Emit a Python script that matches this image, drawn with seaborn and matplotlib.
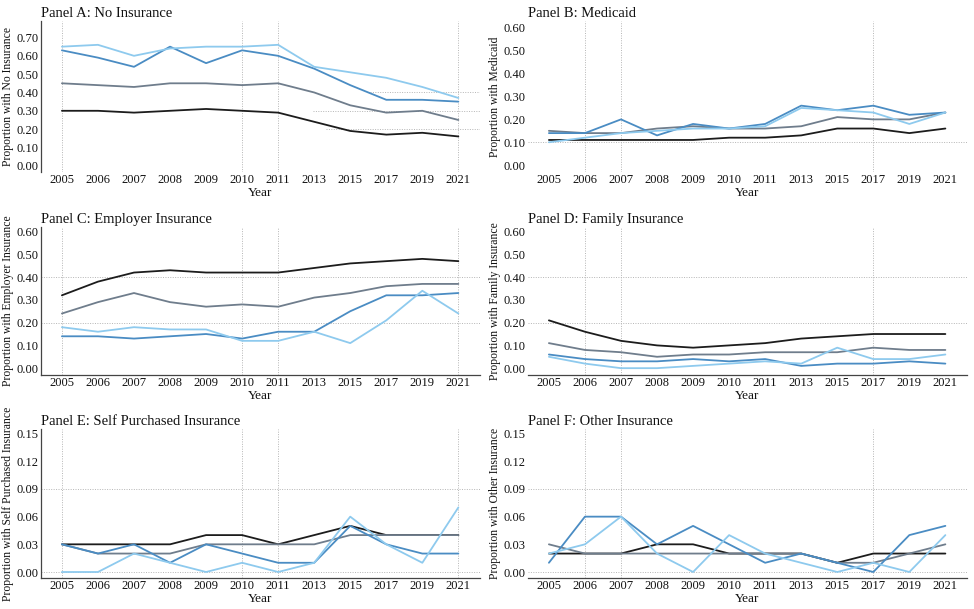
import numpy as np
import pandas as pd
import seaborn as sns
import matplotlib.pyplot as plt

sns.set_style("white")
plt.rcParams['font.family'] = ['Liberation Serif', 'DejaVu Serif']

years = ["2005", "2006", "2007", "2008", "2009", "2010", "2011", "2013", "2015", "2017", "2019", "2021"]
groups = ["Group 1", "Group 2", "Group 3", "Group 4"]
colors = ["#1c1c1c", "#6f7d8c", "#4a8cc3", "#8ecaee"]

# Panel A: No Insurance
none_g1 = [0.30, 0.30, 0.29, 0.30, 0.31, 0.30, 0.29, 0.24, 0.19, 0.17, 0.18, 0.16]
none_g2 = [0.45, 0.44, 0.43, 0.45, 0.45, 0.44, 0.45, 0.40, 0.33, 0.29, 0.30, 0.25]
none_g3 = [0.63, 0.59, 0.54, 0.65, 0.56, 0.63, 0.60, 0.53, 0.44, 0.36, 0.36, 0.35]
none_g4 = [0.65, 0.66, 0.60, 0.64, 0.65, 0.65, 0.66, 0.54, 0.51, 0.48, 0.43, 0.37]

# Panel B: Medicaid
mcd_g1 = [0.11, 0.11, 0.11, 0.11, 0.11, 0.12, 0.12, 0.13, 0.16, 0.16, 0.14, 0.16]
mcd_g2 = [0.15, 0.14, 0.14, 0.16, 0.17, 0.16, 0.16, 0.17, 0.21, 0.20, 0.20, 0.23]
mcd_g3 = [0.14, 0.14, 0.20, 0.13, 0.18, 0.16, 0.18, 0.26, 0.24, 0.26, 0.22, 0.23]
mcd_g4 = [0.10, 0.12, 0.14, 0.15, 0.16, 0.16, 0.17, 0.25, 0.24, 0.23, 0.18, 0.23]

# Panel C: Employer
emp_g1 = [0.32, 0.38, 0.42, 0.43, 0.42, 0.42, 0.42, 0.44, 0.46, 0.47, 0.48, 0.47]
emp_g2 = [0.24, 0.29, 0.33, 0.29, 0.27, 0.28, 0.27, 0.31, 0.33, 0.36, 0.37, 0.37]
emp_g3 = [0.14, 0.14, 0.13, 0.14, 0.15, 0.13, 0.16, 0.16, 0.25, 0.32, 0.32, 0.33]
emp_g4 = [0.18, 0.16, 0.18, 0.17, 0.17, 0.12, 0.12, 0.16, 0.11, 0.21, 0.34, 0.24]

# Panel D: Family
fam_g1 = [0.21, 0.16, 0.12, 0.10, 0.09, 0.10, 0.11, 0.13, 0.14, 0.15, 0.15, 0.15]
fam_g2 = [0.11, 0.08, 0.07, 0.05, 0.06, 0.06, 0.07, 0.07, 0.07, 0.09, 0.08, 0.08]
fam_g3 = [0.06, 0.04, 0.03, 0.03, 0.04, 0.03, 0.04, 0.01, 0.02, 0.02, 0.03, 0.02]
fam_g4 = [0.05, 0.02, 0.00, 0.00, 0.01, 0.02, 0.03, 0.02, 0.09, 0.04, 0.04, 0.06]

# Panel E: Self purchased
self_g1 = [0.03, 0.03, 0.03, 0.03, 0.04, 0.04, 0.03, 0.04, 0.05, 0.04, 0.04, 0.04]
self_g2 = [0.03, 0.02, 0.02, 0.02, 0.03, 0.03, 0.03, 0.03, 0.04, 0.04, 0.04, 0.04]
self_g3 = [0.03, 0.02, 0.03, 0.01, 0.03, 0.02, 0.01, 0.01, 0.05, 0.03, 0.02, 0.02]
self_g4 = [0.00, 0.00, 0.02, 0.01, 0.00, 0.01, 0.00, 0.01, 0.06, 0.03, 0.01, 0.07]

# Panel F: Other
oth_g1 = [0.02, 0.02, 0.02, 0.03, 0.03, 0.02, 0.02, 0.02, 0.01, 0.02, 0.02, 0.02]
oth_g2 = [0.03, 0.02, 0.02, 0.02, 0.02, 0.02, 0.02, 0.02, 0.01, 0.01, 0.02, 0.03]
oth_g3 = [0.01, 0.06, 0.06, 0.03, 0.05, 0.03, 0.01, 0.02, 0.01, 0.00, 0.04, 0.05]
oth_g4 = [0.02, 0.03, 0.06, 0.02, 0.00, 0.04, 0.02, 0.01, 0.00, 0.01, 0.00, 0.04]

titles = ["Panel A: No Insurance", "Panel B: Medicaid", "Panel C: Employer Insurance",
          "Panel D: Family Insurance", "Panel E: Self Purchased Insurance", "Panel F: Other Insurance"]
ylabels = ["Proportion with No Insurance", "Proportion with Medicaid",
           "Proportion with Employer Insurance", "Proportion with Family Insurance",
           "Proportion with Self Purchased Insurance", "Proportion with Other Insurance"]
panel_data = [
    [none_g1, none_g2, none_g3, none_g4],
    [mcd_g1, mcd_g2, mcd_g3, mcd_g4],
    [emp_g1, emp_g2, emp_g3, emp_g4],
    [fam_g1, fam_g2, fam_g3, fam_g4],
    [self_g1, self_g2, self_g3, self_g4],
    [oth_g1, oth_g2, oth_g3, oth_g4],
]
yticks = [np.arange(0, 0.71, 0.1), np.arange(0, 0.61, 0.1), np.arange(0, 0.61, 0.1),
          np.arange(0, 0.61, 0.1), np.arange(0, 0.151, 0.03), np.arange(0, 0.151, 0.03)]
ylims = [(-0.034, 0.79), (-0.03, 0.63), (-0.03, 0.62), (-0.03, 0.62), (-0.0065, 0.155), (-0.0065, 0.155)]

# odd partial gridlines of the original
vgrid = [[0, 5, 6, 11], [1, 2, 9], [0, 5, 6, 11], [1, 2, 9], [0, 5, 6, 11], [1, 2, 9]]
hgrid = [[(0.20, 0.65), (0.30, 0.62), (0.40, 0.75)], [(0.10, 0.0)], [(0.40, 0.0), (0.20, 0.0)],
         [(0.40, 0.0), (0.20, 0.0)], [(0.09, 0.0), (0.00, 0.0)], [(0.09, 0.0), (0.00, 0.0)]]

W, H = 974, 609
fig = plt.figure(figsize=(W / 100, H / 100), dpi=100)
rows = [(21, 172), (227, 375), (429, 578)]
cols = [41, 528]
axw = 439

for i in range(6):
    r, c = divmod(i, 2)
    top, bot = rows[r]
    ax = fig.add_axes([cols[c] / W, 1 - bot / H, axw / W, (bot - top) / H])
    df = pd.DataFrame({
        "Year": years * 4,
        "value": sum(panel_data[i], []),
        "group": np.repeat(groups, len(years)),
    })
    for x in vgrid[i]:
        ax.axvline(x, color="#b5b5b5", lw=0.7, ls=(0, (1, 1.5)), zorder=0)
    for y, x0 in hgrid[i]:
        ax.axhline(y, xmin=x0, color="#b5b5b5", lw=0.7, ls=(0, (1, 1.5)), zorder=0)
    sns.lineplot(data=df, x="Year", y="value", hue="group", palette=colors,
                 linewidth=1.3, legend=False, ax=ax, sort=False)
    ax.set_xlim(-0.58, 11.6)
    ax.set_ylim(*ylims[i])
    ax.set_yticks(yticks[i])
    ax.set_yticklabels([f"{v:.2f}" for v in yticks[i]])
    ax.tick_params(axis="both", length=0, labelsize=9, pad=1.5, colors="#111111")
    ax.set_title(titles[i], loc="left", fontsize=10.5, pad=3, color="#111111")
    ax.set_ylabel(ylabels[i], fontsize=8.4, labelpad=2, color="#111111")
    ax.set_xlabel("Year", fontsize=9.5, labelpad=0.5, color="#111111")
    for s in ["top", "right"]:
        ax.spines[s].set_visible(False)
    ax.spines["left"].set_visible(c == 0)
    ax.spines["bottom"].set_visible(r > 0)
    ax.spines["left"].set_color("#444444")
    ax.spines["bottom"].set_color("#444444")
    ax.spines["left"].set_linewidth(0.9)
    ax.spines["bottom"].set_linewidth(0.9)

fig.savefig("out.png", dpi=100)
